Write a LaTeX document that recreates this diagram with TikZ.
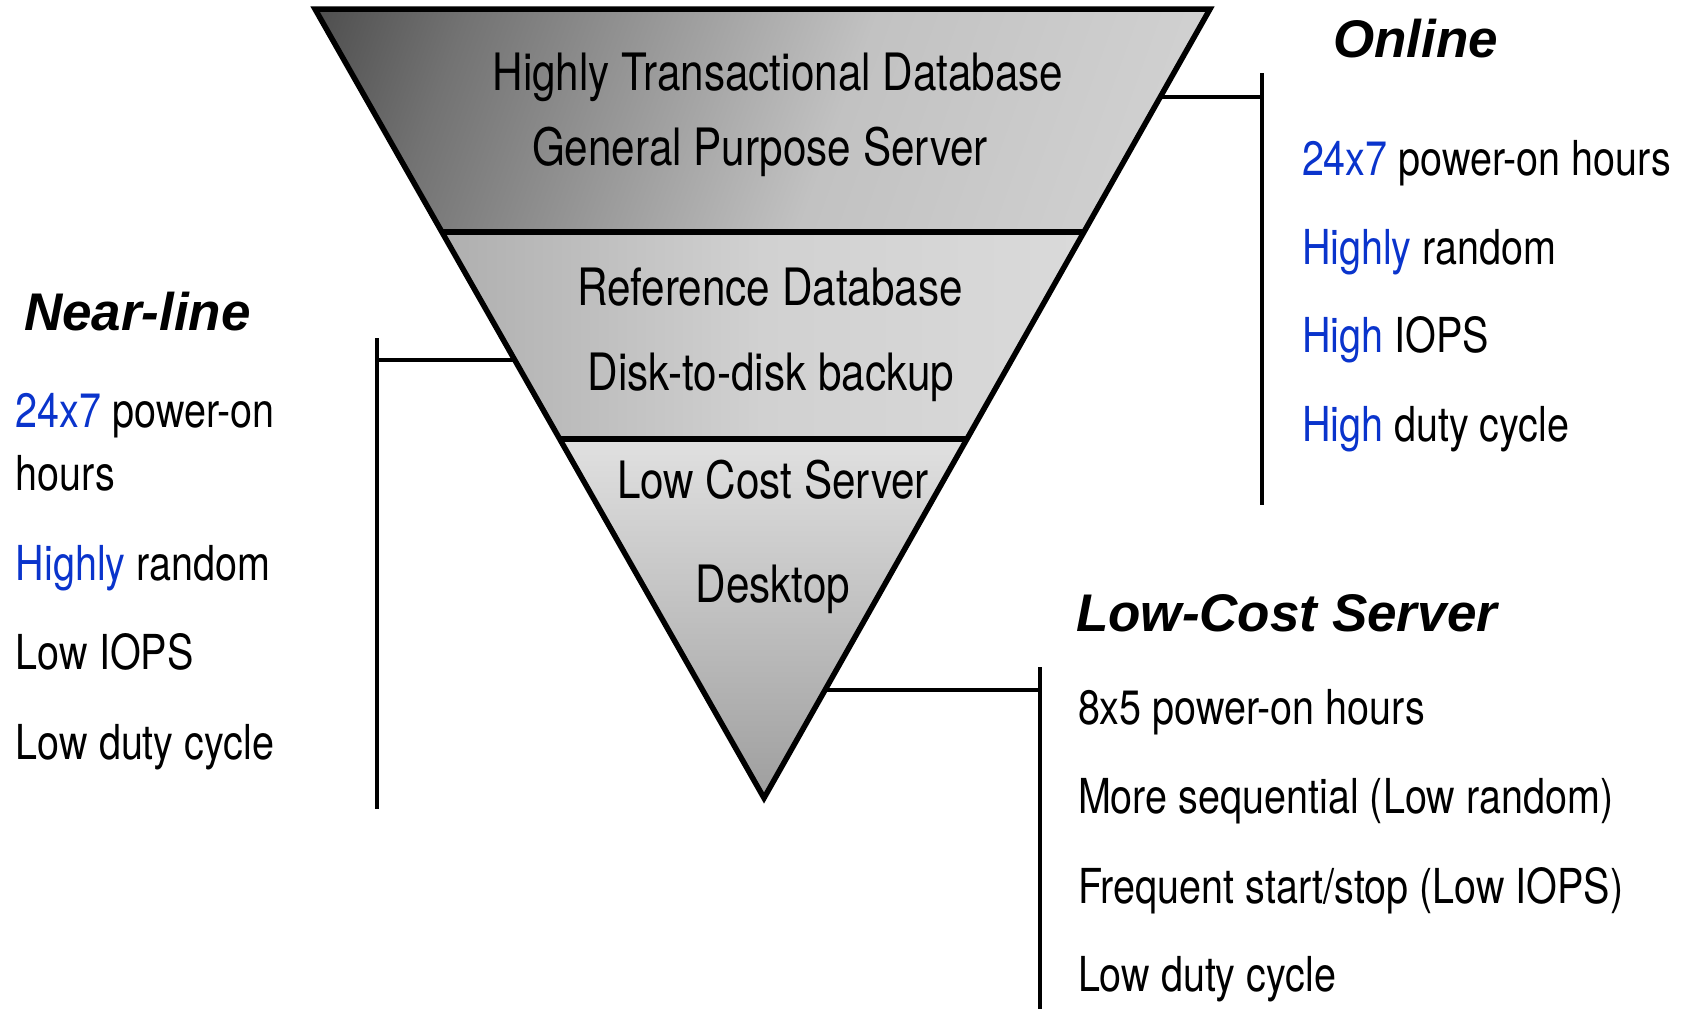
\documentclass[tikz,border=0pt]{standalone}
\usepackage{fontspec}
\setmainfont{TeX Gyre Heros}[FakeStretch=0.82]
\newfontfamily\headfont{Liberation Sans}
\usetikzlibrary{calc}

\definecolor{keyblue}{RGB}{10,52,204}
\pgfdeclarehorizontalshading{topband}{100bp}{color(0bp)=(black!95); color(28bp)=(black!55); color(55bp)=(black!24); color(100bp)=(black!12)}
\pgfdeclarehorizontalshading{midband}{100bp}{color(0bp)=(black!45); color(50bp)=(black!18); color(100bp)=(black!11)}

\begin{document}
\begin{tikzpicture}[x=1pt, y=-1pt,
      every node/.style={inner sep=0pt, outer sep=0pt},
      band/.style={anchor=base, font=\fontsize{51.5}{60}\selectfont},
      item/.style={anchor=base west, font=\fontsize{48.2}{56}\selectfont},
      head/.style={anchor=base west,
        font=\fontsize{53}{60}\selectfont\headfont\bfseries\itshape},
      rim/.style={line width=5.5pt, line join=miter},
      bar/.style={line width=4pt}]
    \useasboundingbox (0,0) rectangle (1691,1009);
    % funnel
    \coordinate (tl) at (315,9);
    \coordinate (tr) at (1210,9);
    \coordinate (apex) at (764,798);
    \coordinate (al) at ($(tl)!0.2826!(apex)$);
    \coordinate (ar) at ($(tr)!0.2826!(apex)$);
    \coordinate (bl) at ($(tl)!0.5450!(apex)$);
    \coordinate (br) at ($(tr)!0.5450!(apex)$);
    \shade[shading=topband, shading angle=-20] (tl) -- (tr) -- (ar) -- (al) -- cycle;
    \shade[shading=midband] (al) -- (ar) -- (br) -- (bl) -- cycle;
    \shade[top color=black!12, bottom color=black!38] (bl) -- (br) -- (apex) -- cycle;
    % brackets
    \coordinate (on-stub) at ($(tr)!0.1115!(apex)$);
    \coordinate (on-top) at (1262,73);
    \coordinate (on-bot) at (1262,505);
    \coordinate (nl-stub) at ($(tl)!0.4449!(apex)$);
    \coordinate (nl-top) at (377,338);
    \coordinate (nl-bot) at (377,809);
    \coordinate (lc-stub) at ($(tr)!0.8631!(apex)$);
    \coordinate (lc-top) at (1040,667);
    \coordinate (lc-bot) at (1040,1009);
    \draw[bar] (on-top) -- (on-bot);
    \draw[bar] (on-stub) -- (on-stub -| on-top);
    \draw[bar] (nl-top) -- (nl-bot);
    \draw[bar] (nl-stub) -- (nl-stub -| nl-top);
    \draw[bar] (lc-top) -- (lc-bot);
    \draw[bar] (lc-stub) -- (lc-stub -| lc-top);
    \draw[rim] (tl) -- (tr) -- (apex) -- cycle;
    \draw[rim] (al) -- (ar);
    \draw[rim] (bl) -- (br);
    % funnel texts
    \node[band] (htd) at (778,90) {Highly Transactional Database};
    \node[band] (gps) at (760,165) {General Purpose Server};
    \node[band] (refdb) at (770,305) {Reference Database};
    \node[band] (d2d) at (771,390) {Disk-to-disk backup};
    \node[band] (lcs) at (773,498) {Low Cost Server};
    \node[band] (desk) at (773,602) {Desktop};
    % online
    \node[head] (online) at (1333,57) {Online};
    \node[item] (on1) at (1302,175) {\textcolor{keyblue}{24x7} power-on hours};
    \node[item] (on2) at (1302,264) {\textcolor{keyblue}{Highly} random};
    \node[item] (on3) at (1302,352) {\textcolor{keyblue}{High} IOPS};
    \node[item] (on4) at (1302,441) {\textcolor{keyblue}{High} duty cycle};
    % near-line
    \node[head] (nearline) at (24,330) {Near-line};
    \node[item] (nl1) at (16,427) {\textcolor{keyblue}{24x7} power-on};
    \node[item] (nl1b) at (16,490) {hours};
    \node[item] (nl2) at (16,580) {\textcolor{keyblue}{Highly} random};
    \node[item] (nl3) at (16,669) {Low IOPS};
    \node[item] (nl4) at (16,759) {Low duty cycle};
    % low-cost server
    \node[head] (lowcost) at (1076,631) {Low-Cost Server};
    \node[item] (lc1) at (1078,724) {8x5 power-on hours};
    \node[item] (lc2) at (1078,813) {More sequential (Low random)};
    \node[item] (lc3) at (1078,903) {Frequent start/stop (Low IOPS)};
    \node[item] (lc4) at (1078,991) {Low duty cycle};
\end{tikzpicture}
\end{document}
